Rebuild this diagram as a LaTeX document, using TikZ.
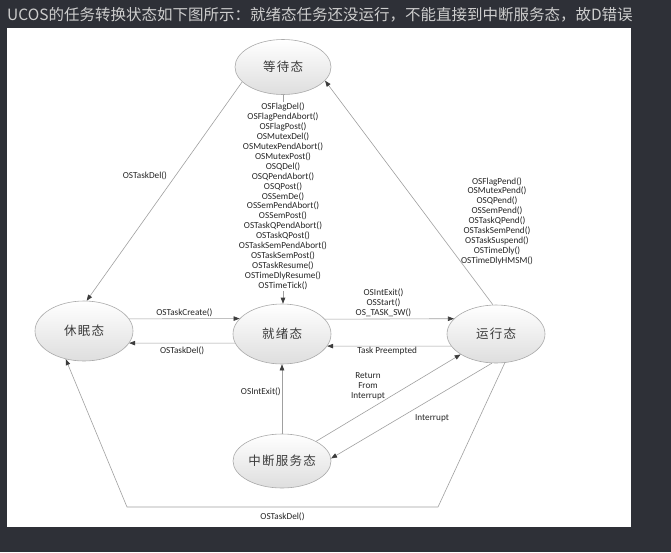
\documentclass[tikz,border=0pt]{standalone}
\usepackage{fontspec}
\setmainfont{Carlito}
\newfontfamily\cjk{Noto Sans CJK SC}
\newfontfamily\cjkst[LetterSpace=10]{Noto Sans CJK SC}
\usetikzlibrary{shapes.geometric,arrows.meta}
\definecolor{bgdark}{RGB}{46,48,55}
\definecolor{toptext}{RGB}{205,205,205}
\definecolor{edgegray}{RGB}{160,160,160}
\definecolor{tipgray}{RGB}{60,60,60}
\definecolor{nodeborder}{RGB}{170,170,170}
\definecolor{nodetext}{RGB}{60,60,60}
\begin{document}
\begin{tikzpicture}[x=1pt,y=-1pt,
  state/.style={ellipse, draw=nodeborder, line width=0.6pt, top color=white, bottom color=black!13,
    minimum width=98pt, minimum height=60pt, inner sep=0pt,
    font=\cjkst\fontsize{12.5}{14}\selectfont, text=nodetext},
  conn/.style={draw=edgegray, line width=0.6pt},
  arr/.style={conn, -{Triangle[length=6pt,width=4.5pt,color=tipgray]}},
  lbl/.style={font=\fontsize{9.2}{9.9}\selectfont, text=black!85, inner sep=2pt, align=center},
]
\fill[bgdark] (0,0) rectangle (671,552);
\useasboundingbox (0,0) rectangle (671,552);
\node[anchor=west, text=toptext, font=\cjk\fontsize{15.5}{18}\selectfont, inner sep=0pt] (title) at (7,15)
  {UCOS的任务转换状态如下图所示：就绪态任务还没运行，不能直接到中断服务态，故D错误};
\fill[white] (7,28) rectangle (631,527);

\node[state, minimum width=96pt, minimum height=55pt] (wait) at (283,67) {等待态};
\node[state] (sleep) at (84,331) {休眠态};
\node[state] (ready) at (282,334) {就绪态};
\node[state, minimum height=58pt] (run) at (496,334) {运行态};
\node[state, minimum height=54pt] (isr) at (282,461) {中断服务态};

\draw[arr] (wait.south) -- (wait.south |- ready.north)
  node[lbl, pos=0.486, fill=white, inner sep=1.5pt] (lwait)
  {OSFlagDel()\\OSFlagPendAbort()\\OSFlagPost()\\OSMutexDel()\\OSMutexPendAbort()\\OSMutexPost()\\OSQDel()\\OSQPendAbort()\\OSQPost()\\OSSemDe()\\OSSemPendAbort()\\OSSemPost()\\OSTaskQPendAbort()\\OSTaskQPost()\\OSTaskSemPendAbort()\\OSTaskSemPost()\\OSTaskResume()\\OSTimeDlyResume()\\OSTimeTick()};

\draw[arr] (wait.200) -- (sleep.85) node[lbl, pos=0.43, left=6pt] (ldel1) {OSTaskDel()};

\draw[arr] (run.96) -- (wait.-18);
\node[lbl] (lpend) at (497,221)
  {OSFlagPend()\\OSMutexPend()\\OSQPend()\\OSSemPend()\\OSTaskQPend()\\OSTaskSemPend()\\OSTaskSuspend()\\OSTimeDly()\\OSTimeDlyHMSM()};

\draw[arr] (sleep.15) -- (ready.160) node[lbl, midway, above] (lcreate) {OSTaskCreate()};
\draw[arr] (ready.191) -- (sleep.-15) node[lbl, midway, below=1.5pt] (ldel2) {OSTaskDel()};
\draw[arr] (ready.19) -- (run.160) node[lbl, midway, above, xshift=-6pt] (lsched) {OSIntExit()\\OSStart()\\OS\_TASK\_SW()};
\draw[arr] (run.195) -- (ready.-15) node[lbl, midway, below=-1pt, xshift=-2pt] (lpre) {Task Preempted};

\draw[arr] (isr.north) -- (ready.south) node[lbl, pos=0.6, left, inner sep=1pt] (lintexit) {OSIntExit()};

\draw[arr] (isr.30) -- (run.210);
\node[lbl] (lret) at (368,386) {Return\\From\\Interrupt};
\draw[arr] (run.262) -- (isr.3);
\node[lbl] (lint) at (432,418) {Interrupt};

\coordinate (br) at (438,507);
\coordinate (bl) at (127,507);
\draw[arr] (run.287) -- (br) -- (bl) node[lbl, midway, below=3pt] (ldel3) {OSTaskDel()} -- (sleep.237);
\end{tikzpicture}
\end{document}
